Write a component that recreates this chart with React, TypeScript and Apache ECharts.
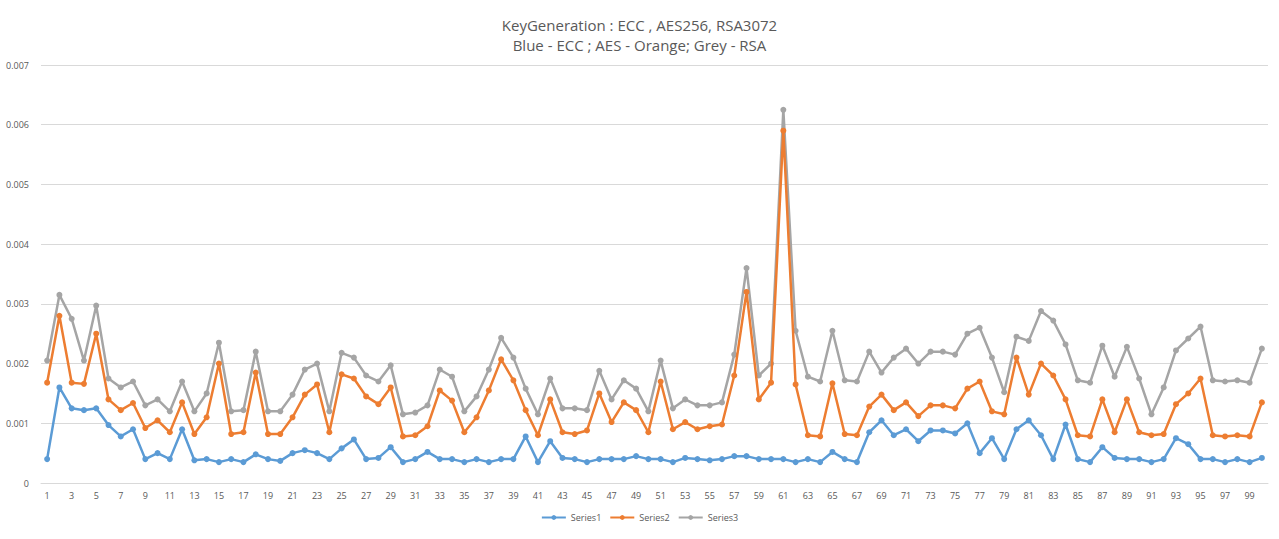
import { useEffect, useRef } from "react";
import * as echarts from "echarts";

const categories = Array.from({ length: 100 }, (_, i) => String(i + 1));

const series1 = [
  0.0004, 0.0016, 0.00125, 0.00122, 0.00125, 0.00097, 0.00078, 0.0009, 0.0004, 0.0005,
  0.0004, 0.0009, 0.00038, 0.0004, 0.00035, 0.0004, 0.00035, 0.00048, 0.0004, 0.00037,
  0.0005, 0.00055, 0.0005, 0.0004, 0.00058, 0.00073, 0.0004, 0.00042, 0.0006, 0.00035,
  0.0004, 0.00052, 0.0004, 0.0004, 0.00035, 0.0004, 0.00035, 0.0004, 0.0004, 0.00078,
  0.00035, 0.0007, 0.00042, 0.0004, 0.00035, 0.0004, 0.0004, 0.0004, 0.00045, 0.0004,
  0.0004, 0.00035, 0.00042, 0.0004, 0.00038, 0.0004, 0.00045, 0.00045, 0.0004, 0.0004,
  0.0004, 0.00035, 0.0004, 0.00035, 0.00052, 0.0004, 0.00035, 0.00085, 0.00105, 0.0008,
  0.0009, 0.0007, 0.00088, 0.00088, 0.00083, 0.001, 0.0005, 0.00075, 0.0004, 0.0009,
  0.00105, 0.0008, 0.0004, 0.00098, 0.0004, 0.00035, 0.0006, 0.00042, 0.0004, 0.0004,
  0.00035, 0.0004, 0.00075, 0.00065, 0.0004, 0.0004, 0.00035, 0.0004, 0.00035, 0.00042,
];

const series2 = [
  0.00168, 0.0028, 0.00168, 0.00166, 0.0025, 0.0014, 0.00122, 0.00134, 0.00092, 0.00105,
  0.00085, 0.00135, 0.00082, 0.0011, 0.002, 0.00082, 0.00085, 0.00185, 0.00082, 0.00082,
  0.0011, 0.00148, 0.00165, 0.00085, 0.00182, 0.00175, 0.00145, 0.00132, 0.0016, 0.00078,
  0.0008, 0.00095, 0.00155, 0.00138, 0.00085, 0.0011, 0.00155, 0.00207, 0.00172, 0.00122,
  0.0008, 0.0014, 0.00085, 0.00082, 0.00088, 0.0015, 0.00102, 0.00135, 0.00122, 0.00085,
  0.0017, 0.0009, 0.00102, 0.0009, 0.00095, 0.00098, 0.0018, 0.0032, 0.0014, 0.00168,
  0.0059, 0.00165, 0.0008, 0.00078, 0.00167, 0.00082, 0.0008, 0.00128, 0.00148, 0.00122,
  0.00135, 0.00112, 0.0013, 0.0013, 0.00125, 0.00158, 0.0017, 0.0012, 0.00115, 0.0021,
  0.00148, 0.002, 0.0018, 0.0014, 0.0008, 0.00078, 0.0014, 0.00085, 0.0014, 0.00085,
  0.0008, 0.00082, 0.00132, 0.0015, 0.00175, 0.0008, 0.00078, 0.0008, 0.00078, 0.00135,
];

const series3 = [
  0.00205, 0.00315, 0.00275, 0.00205, 0.00297, 0.00175, 0.0016, 0.0017, 0.0013, 0.0014,
  0.0012, 0.0017, 0.0012, 0.0015, 0.00235, 0.0012, 0.00122, 0.0022, 0.0012, 0.0012,
  0.00148, 0.0019, 0.002, 0.0012, 0.00218, 0.0021, 0.0018, 0.0017, 0.00197, 0.00115,
  0.00118, 0.0013, 0.0019, 0.00178, 0.0012, 0.00145, 0.0019, 0.00243, 0.0021, 0.00158,
  0.00115, 0.00175, 0.00125, 0.00125, 0.00122, 0.00188, 0.0014, 0.00172, 0.00158, 0.0012,
  0.00205, 0.00125, 0.0014, 0.0013, 0.0013, 0.00135, 0.00215, 0.0036, 0.0018, 0.002,
  0.00625, 0.00255, 0.00178, 0.0017, 0.00255, 0.00172, 0.0017, 0.0022, 0.00185, 0.0021,
  0.00225, 0.002, 0.0022, 0.0022, 0.00215, 0.0025, 0.0026, 0.0021, 0.00152, 0.00245,
  0.00238, 0.00288, 0.00272, 0.00232, 0.00172, 0.00168, 0.0023, 0.00178, 0.00228, 0.00175,
  0.00115, 0.0016, 0.00222, 0.00242, 0.00262, 0.00172, 0.0017, 0.00172, 0.00168, 0.00225,
];

const seriesNames = ["Series1", "Series2", "Series3"];
const colors = ["#5b9bd5", "#ed7d31", "#a5a5a5"];

export default function App() {
  const ref = useRef<HTMLDivElement>(null);

  useEffect(() => {
    if (!ref.current) return;
    const chart = echarts.init(ref.current, undefined, { renderer: "svg" });
    const font = "Open Sans, Liberation Sans, sans-serif";
    const data = [series1, series2, series3];

    chart.setOption({
      animation: false,
      backgroundColor: "#fff",
      title: {
        text: "KeyGeneration : ECC , AES256, RSA3072\nBlue - ECC ; AES - Orange; Grey - RSA",
        left: "center",
        top: 10,
        textStyle: { color: "#595959", fontSize: 15, fontWeight: "normal", fontFamily: font, lineHeight: 20 },
      },
      legend: {
        bottom: 12,
        itemWidth: 24,
        itemHeight: 6,
        itemGap: 8,
        textStyle: { color: "#595959", fontSize: 9, fontFamily: font },
        data: seriesNames,
      },
      grid: { left: 41, right: 11, top: 65, bottom: 56 },
      xAxis: {
        type: "category",
        data: categories,
        boundaryGap: true,
        axisLine: { lineStyle: { color: "#d9d9d9" } },
        axisTick: { show: false },
        axisLabel: { color: "#595959", fontSize: 9, interval: 1, fontFamily: font },
      },
      yAxis: {
        type: "value",
        min: 0,
        max: 0.007,
        interval: 0.001,
        axisLine: { show: false },
        axisTick: { show: false },
        axisLabel: { color: "#595959", fontSize: 9, fontFamily: font, margin: 12 },
        splitLine: { lineStyle: { color: "#d9d9d9" } },
      },
      series: data.map((d, i) => ({
        name: seriesNames[i],
        type: "line",
        data: d,
        symbol: "circle",
        symbolSize: 6,
        color: colors[i],
        lineStyle: { width: 2.5, color: colors[i] },
        itemStyle: { color: colors[i] },
        z: 2 + (2 - i),
      })),
    });

    return () => chart.dispose();
  }, []);

  return (
    <div
      ref={ref}
      style={{ position: "absolute", left: 0, top: 0, width: 1279, height: 539 }}
    />
  );
}
